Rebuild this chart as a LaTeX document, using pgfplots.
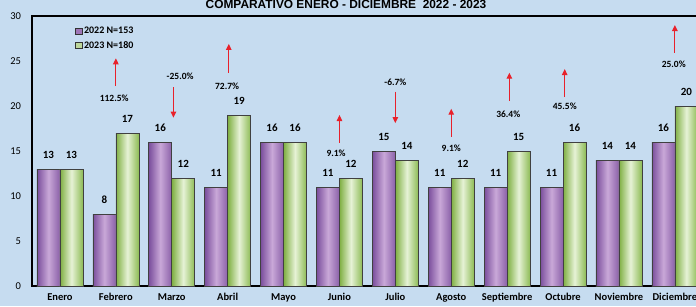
\documentclass[border=0pt]{standalone}
\usepackage{pgfplots}
\pgfplotsset{compat=1.18}
\usepackage{fontspec}
\setmainfont{Carlito}
\newfontfamily\titlefont{Liberation Sans}
\usetikzlibrary{arrows.meta}
\definecolor{bg}{HTML}{C6DCF0}
\definecolor{pA}{HTML}{7A4E9C}
\definecolor{pB}{HTML}{C9A8D8}
\definecolor{pC}{HTML}{8A60A8}
\definecolor{gA}{HTML}{7FAF42}
\definecolor{gB}{HTML}{E6F2D6}
\definecolor{gC}{HTML}{8DBB55}
\definecolor{arr}{HTML}{E8212B}
\pgfplotsset{
  pbar/.style={ybar, bar width=23pt, bar shift=-11.5pt, forget plot, draw=black!75, line width=0.6pt, left color=pA, right color=pC, middle color=pB,
    nodes near coords, every node near coord/.append style={xshift=-11.5pt}},
  gbar/.style={ybar, bar width=23pt, bar shift=11.5pt, forget plot, draw=black!75, line width=0.6pt, left color=gA, right color=gC, middle color=gB,
    nodes near coords, every node near coord/.append style={xshift=11.5pt}},
}
\begin{document}
\begin{tikzpicture}
\useasboundingbox (0,0) rectangle (696pt,306pt);
\clip (0,0) rectangle (696pt,306pt);
\fill[bg] (0,0) rectangle (696pt,306pt);
\node[font=\titlefont\bfseries\fontsize{11.9}{13}\selectfont, anchor=base] at (346pt,297pt) {COMPARATIVO ENERO - DICIEMBRE \ 2022 - 2023};
\begin{axis}[
  at={(32pt,20pt)}, anchor=south west,
  scale only axis, width=670.8pt, height=270pt,
  xmin=-0.5, xmax=11.5, ymin=0, ymax=30,
  axis line style={line width=1.6pt, black},
  major tick length=0pt,
  ytick={0,5,...,30},
  xtick={0,...,11},
  xticklabels={Enero,Febrero,Marzo,Abril,Mayo,Junio,Julio,Agosto,Septiembre,Octubre,Noviembre,Diciembre},
  xticklabel style={font=\bfseries\fontsize{10.5}{12}\selectfont, yshift=-4pt},
  yticklabel style={font=\fontsize{10.5}{12}\selectfont, xshift=-7.5pt},
  /pgf/number format/assume math mode=true,
  every node near coord/.append style={font=\bfseries\fontsize{11}{13}\selectfont, black, yshift=6.5pt},
  legend style={at={(axis description cs:0,1)}, anchor=north west, xshift=40pt, yshift=-7pt, draw=none, fill=none, font=\bfseries\fontsize{10}{12}\selectfont, row sep=2pt},
  legend cell align=left,
]
% 2022 N=153
\addplot[pbar] coordinates {(0,13)};
\addplot[pbar] coordinates {(1,8)};
\addplot[pbar] coordinates {(2,16)};
\addplot[pbar] coordinates {(3,11)};
\addplot[pbar] coordinates {(4,16)};
\addplot[pbar] coordinates {(5,11)};
\addplot[pbar] coordinates {(6,15)};
\addplot[pbar] coordinates {(7,11)};
\addplot[pbar] coordinates {(8,11)};
\addplot[pbar] coordinates {(9,11)};
\addplot[pbar] coordinates {(10,14)};
\addplot[pbar] coordinates {(11,16)};
% 2023 N=180
\addplot[gbar] coordinates {(0,13)};
\addplot[gbar] coordinates {(1,17)};
\addplot[gbar] coordinates {(2,12)};
\addplot[gbar] coordinates {(3,19)};
\addplot[gbar] coordinates {(4,16)};
\addplot[gbar] coordinates {(5,12)};
\addplot[gbar] coordinates {(6,14)};
\addplot[gbar] coordinates {(7,12)};
\addplot[gbar] coordinates {(8,15)};
\addplot[gbar] coordinates {(9,16)};
\addplot[gbar] coordinates {(10,14)};
\addplot[gbar] coordinates {(11,20)};
\addlegendimage{legend image code/.code={\draw[draw=black!80, fill=pA!55!pB, line width=0.5pt] (0pt,-3.2pt) rectangle (6.4pt,3.2pt);}}
\addlegendentry{2022 N=153}
\addlegendimage{legend image code/.code={\draw[draw=black!80, fill=gA!40!gB, line width=0.5pt] (0pt,-3.2pt) rectangle (6.4pt,3.2pt);}}
\addlegendentry{2023 N=180}
% change arrows
\begin{scope}[arr, line width=1.1pt, -{Triangle[length=6pt,width=5.5pt]}]
\draw (axis cs:1.00,22.2) -- (axis cs:1.00,25.3);
\draw (axis cs:2.03,22.1) -- (axis cs:2.03,18.7);
\draw (axis cs:3.02,23.7) -- (axis cs:3.02,26.9);
\draw (axis cs:5.00,15.9) -- (axis cs:5.00,19.0);
\draw (axis cs:6.00,21.6) -- (axis cs:6.00,18.1);
\draw (axis cs:7.00,16.6) -- (axis cs:7.00,19.7);
\draw (axis cs:8.04,20.6) -- (axis cs:8.04,23.7);
\draw (axis cs:9.03,21.0) -- (axis cs:9.03,24.1);
\draw (axis cs:11.00,25.9) -- (axis cs:11.00,29.0);
\end{scope}
\begin{scope}[every node/.style={font=\bfseries\fontsize{9.5}{11}\selectfont, black}]
\node at (axis cs:0.97,20.9) {112.5\%};
\node at (axis cs:2.15,23.3) {-25.0\%};
\node at (axis cs:2.99,22.2) {72.7\%};
\node at (axis cs:4.94,14.8) {9.1\%};
\node at (axis cs:6.00,22.6) {-6.7\%};
\node at (axis cs:7.00,15.3) {9.1\%};
\node at (axis cs:8.02,19.1) {36.4\%};
\node at (axis cs:9.03,20.0) {45.5\%};
\node at (axis cs:10.98,24.6) {25.0\%};
\end{scope}
\end{axis}
\end{tikzpicture}
\end{document}
